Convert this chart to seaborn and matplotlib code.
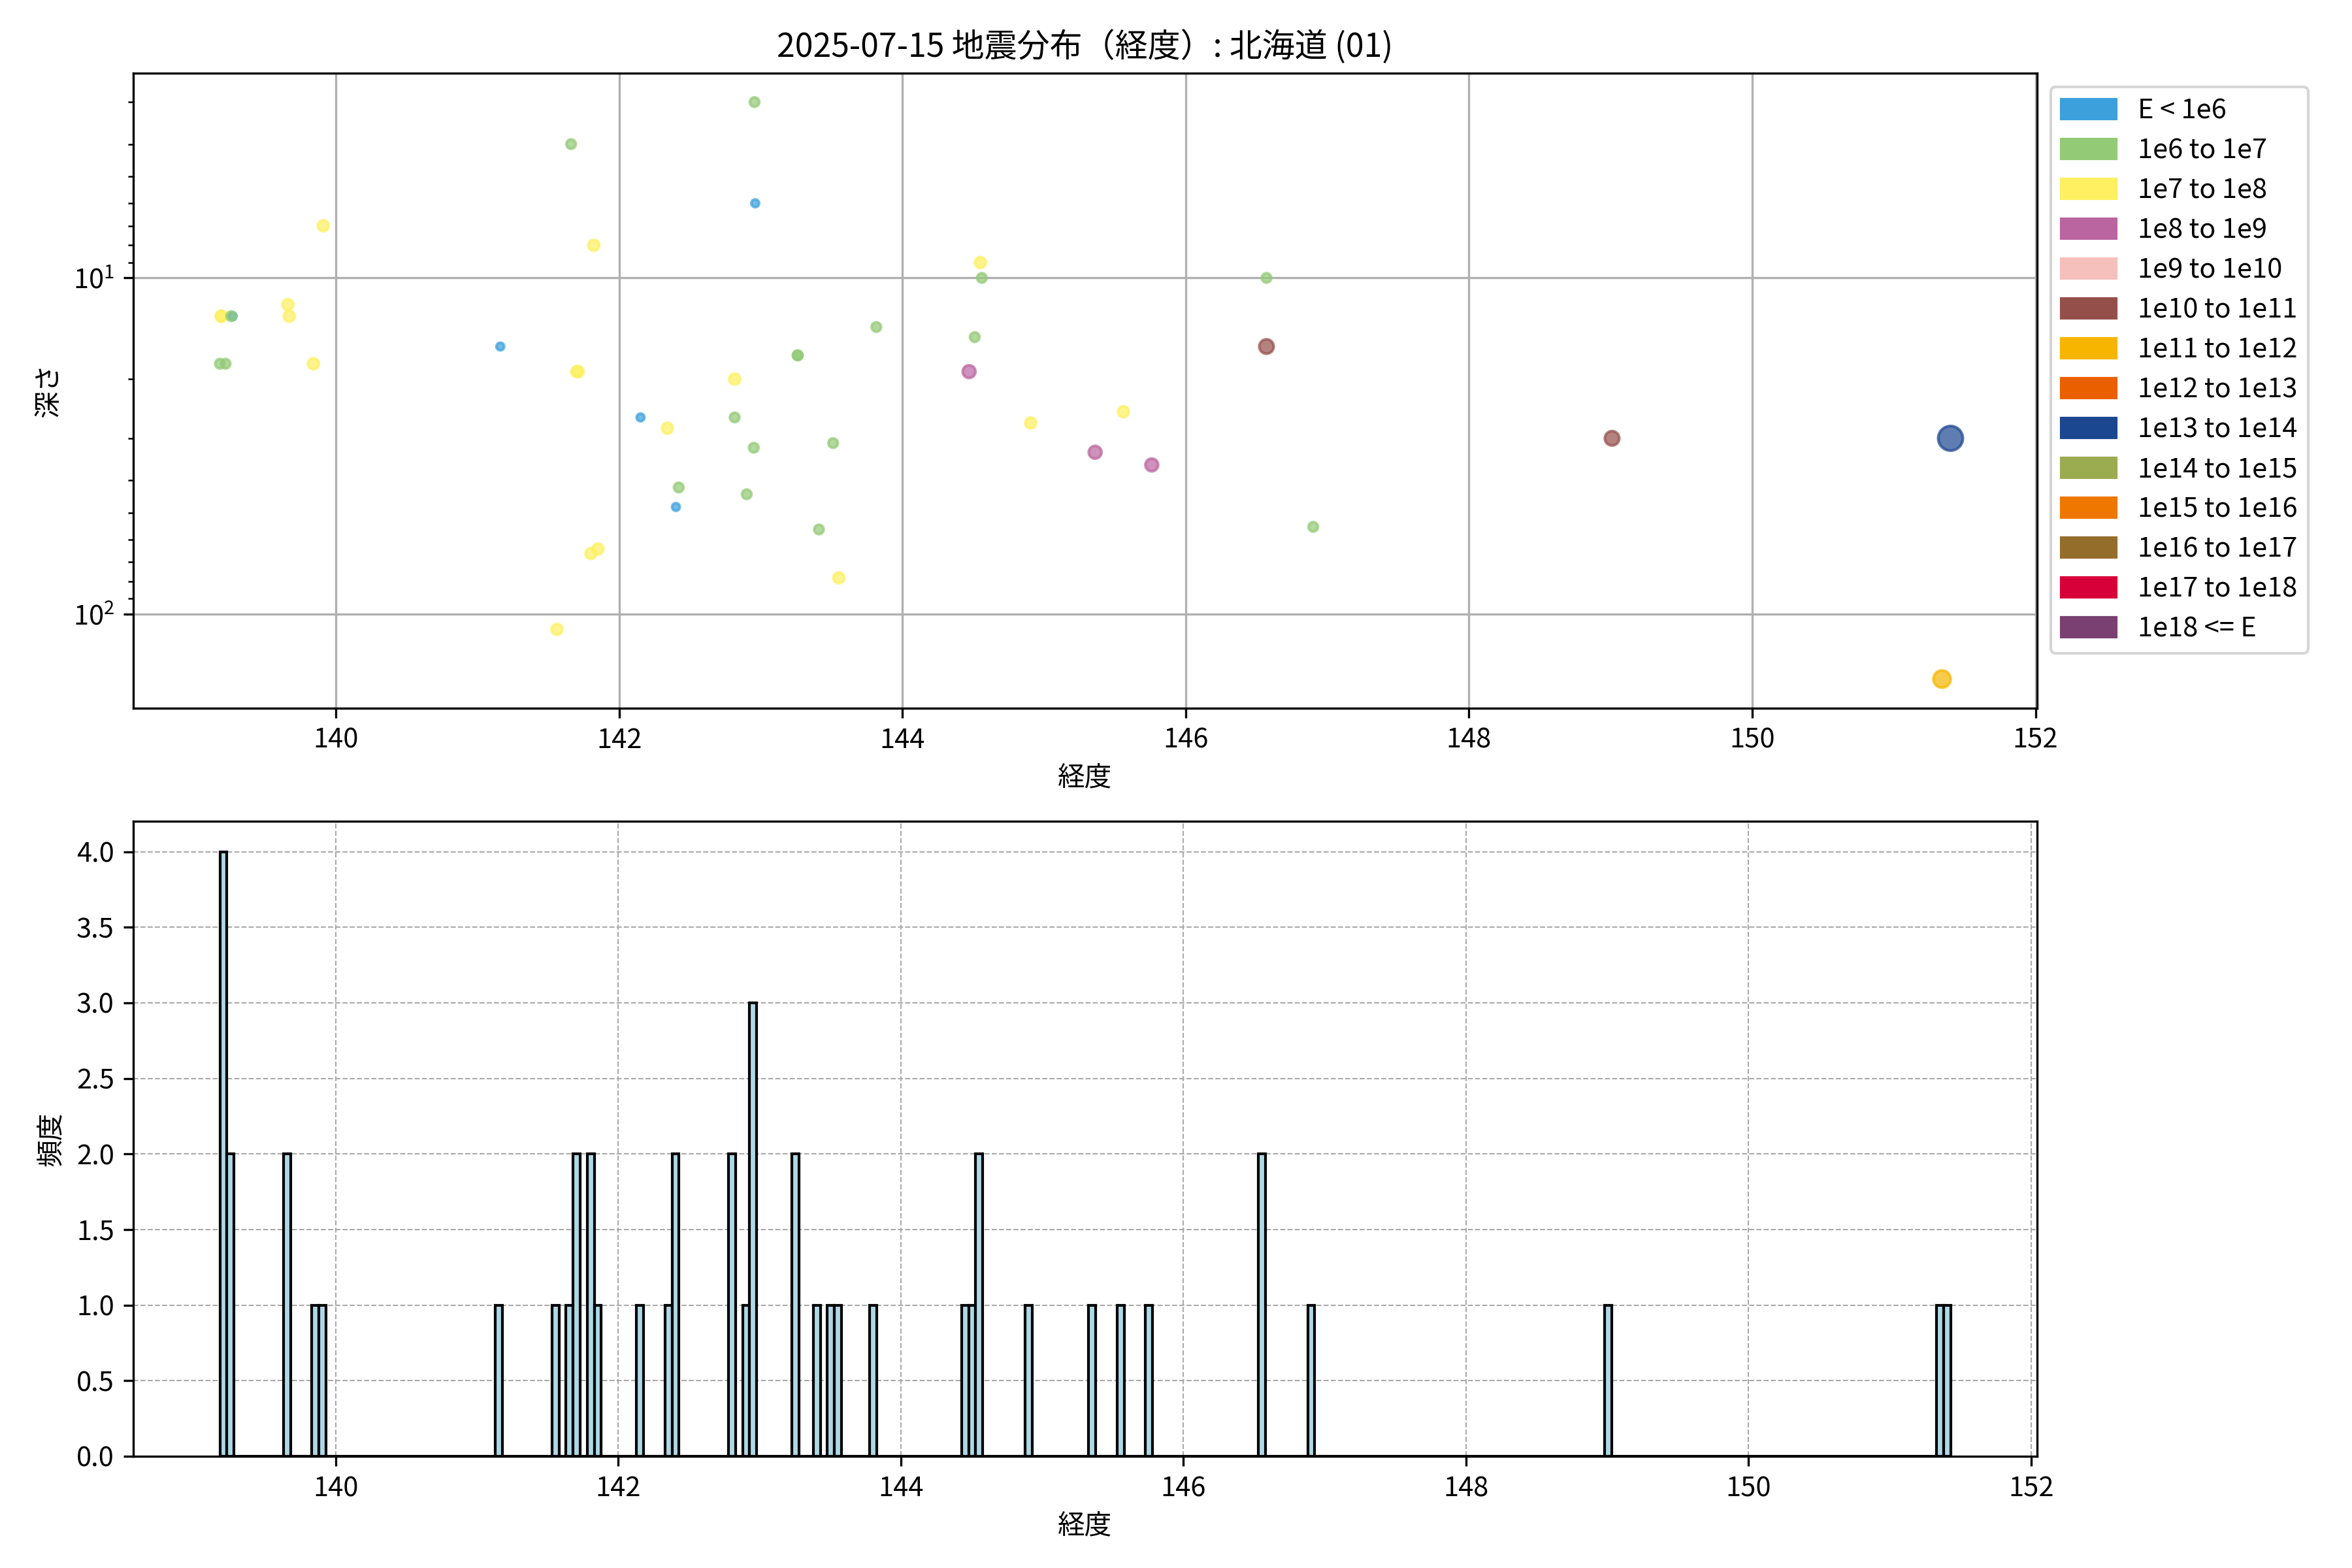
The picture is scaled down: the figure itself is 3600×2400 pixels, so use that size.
import numpy as np
import pandas as pd
import matplotlib
matplotlib.use("Agg")
import matplotlib.pyplot as plt
from matplotlib.patches import Patch
import seaborn as sns

# 震源データ（経度・深さ・エネルギー階級）
lon = [139.19, 139.19, 139.18, 139.22, 139.27, 139.26, 139.66, 139.67, 139.84, 139.91,
       141.16, 141.56, 141.66, 141.70, 141.71, 141.80, 141.82, 141.85, 142.15, 142.34,
       142.40, 142.42, 142.815, 142.815, 142.90, 142.95, 142.955, 142.96, 143.26, 143.26,
       143.41, 143.51, 143.55, 143.815, 144.47, 144.51, 144.55, 144.56, 144.905, 145.36,
       145.56, 145.76, 146.57, 146.57, 146.90, 149.01, 151.34, 151.40]
depth = [13, 13, 18, 18, 13, 13, 12, 13, 18, 7,
         16, 111, 4, 19, 19, 66, 8, 64, 26, 28,
         48, 42, 20, 26, 44, 32, 3.0, 6, 17, 17,
         56, 31, 78, 14, 19, 15, 9, 10, 27, 33,
         25, 36, 10, 16, 55, 30, 156, 30]
e_class = [2, 2, 1, 1, 0, 1, 2, 2, 2, 2,
           0, 2, 1, 2, 2, 2, 2, 2, 0, 2,
           0, 1, 2, 1, 1, 1, 1, 0, 1, 1,
           1, 1, 2, 1, 3, 1, 2, 1, 2, 3,
           2, 3, 1, 5, 1, 5, 6, 8]

class_labels = ["E < 1e6", "1e6 to 1e7", "1e7 to 1e8", "1e8 to 1e9", "1e9 to 1e10",
                "1e10 to 1e11", "1e11 to 1e12", "1e12 to 1e13", "1e13 to 1e14",
                "1e14 to 1e15", "1e15 to 1e16", "1e16 to 1e17", "1e17 to 1e18", "1e18 <= E"]
class_colors = ["#3BA0DC", "#93CA76", "#FEF060", "#BA64A0", "#F5BFBC",
                "#954F4B", "#F7B500", "#EA6000", "#1B4690",
                "#9BAB4F", "#EF7700", "#946D2B", "#D80039", "#7A4071"]
class_sizes = [8, 12, 16, 22, 25, 28, 40, 55, 82, 90, 100, 110, 120, 130]

title = "2025-07-15 地震分布（経度）: 北海道 (01)"

df = pd.DataFrame({"lon": lon, "depth": depth,
                   "cls": [class_labels[c] for c in e_class]})

plt.rcParams['font.family'] = ['Noto Sans CJK JP', 'DejaVu Sans']
plt.rcParams['axes.unicode_minus'] = False

fig, (ax1, ax2) = plt.subplots(2, 1, figsize=(12, 8), dpi=300)
fig.subplots_adjust(left=0.0567, right=0.8661, top=0.9533, bottom=0.0713, hspace=0.179)

# 上段：経度 vs 深さ
sns.scatterplot(data=df, x="lon", y="depth", hue="cls", size="cls",
                palette=dict(zip(class_labels, class_colors)),
                sizes=dict(zip(class_labels, class_sizes)),
                alpha=0.7, edgecolor="face", linewidth=1, legend=False, ax=ax1)
ax1.set_yscale("log")
ax1.invert_yaxis()
ax1.grid(True, which="major", color="#b0b0b0", linewidth=0.8)
ax1.set_axisbelow(True)
ax1.set_title(title, fontsize=12)
ax1.set_xlabel("経度")
ax1.set_ylabel("深さ")

handles = [Patch(color=c, label=l) for c, l in zip(class_colors, class_labels)]
ax1.legend(handles=handles, bbox_to_anchor=(1.0, 1.0), loc="upper left",
           labelspacing=0.48)

# 下段：経度ヒストグラム
edges = np.arange(min(lon), max(lon) + 0.05, 0.05)
sns.histplot(x=lon, bins=edges, color="lightblue", edgecolor="black",
             linewidth=1, alpha=1, ax=ax2)
ax2.grid(True, linestyle="--", linewidth=0.5, color="#aaaaaa")
ax2.set_axisbelow(True)
ax2.set_xlabel("経度")
ax2.set_ylabel("頻度")

for ax in (ax1, ax2):
    for sp in ax.spines.values():
        sp.set_color("black")

fig.savefig("out.png", dpi=300)
